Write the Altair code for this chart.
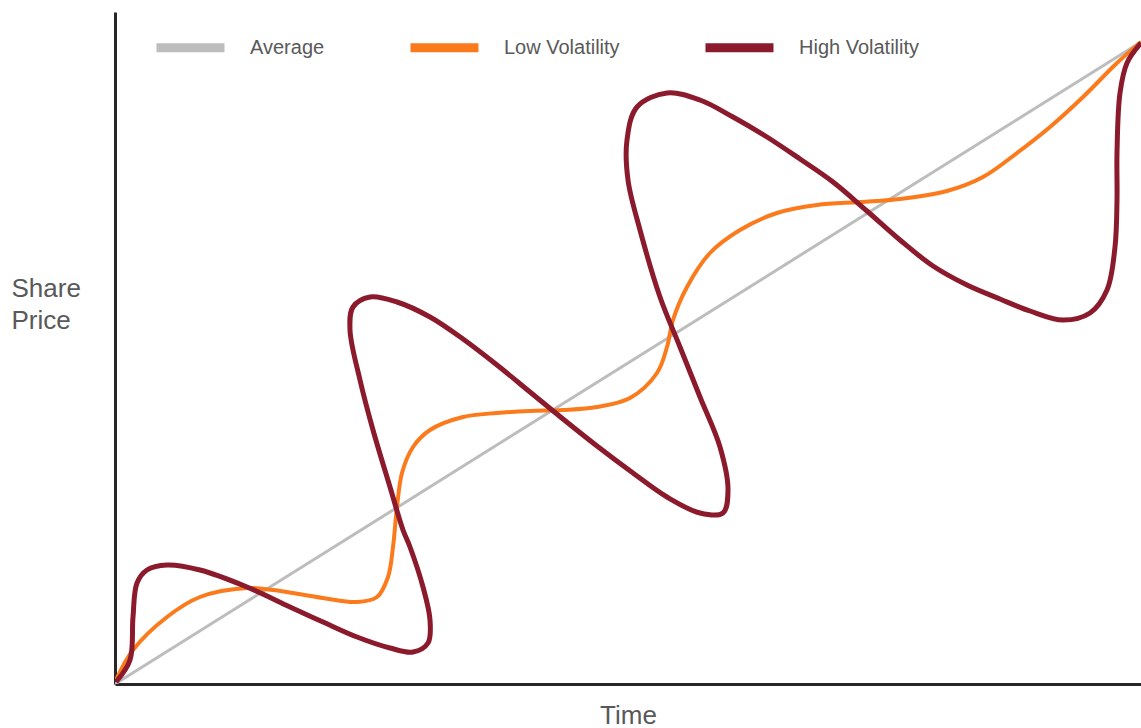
import altair as alt
import pandas as pd

# Pixel-read values (x: time units from left axis, y: price units from bottom axis)
avg_x = [0, 1026]
avg_y = [0, 642]

low_px = [116, 133, 167, 200, 247, 273, 323, 357, 377, 388, 393, 397, 402, 413, 430, 463,
          497, 530, 563, 597, 630, 657, 667, 673, 687, 710, 740, 777, 817, 860, 900, 947,
          983, 1017, 1050, 1083, 1117, 1141]
low_py = [680, 650, 617, 597, 588, 590, 598, 602, 597, 577, 547, 507, 473, 447, 430, 417,
          413, 411, 410, 407, 398, 373, 347, 320, 287, 253, 230, 213, 205, 202, 199, 191,
          177, 153, 127, 97, 63, 42]

high_px = [116, 130, 133, 137, 147, 167, 200, 247, 290, 323, 357, 390, 413, 428,
           430, 423, 410, 403, 390, 373, 360, 350, 353, 370, 397, 430, 463, 497, 530, 563,
           597, 633, 667, 700, 723, 728, 720, 700, 680, 660, 640, 628, 627, 637, 667, 700,
           733, 767, 800, 833, 867, 900, 933, 967, 1000, 1030, 1063, 1090, 1107, 1115, 1117,
           1117, 1120, 1127, 1141]
high_py = [682, 660, 617, 583, 570, 565, 570, 587, 607, 622, 637, 648, 652, 643,
           620, 587, 547, 530, 487, 430, 380, 330, 307, 297, 302, 317, 339, 365, 392, 419,
           446, 473, 497, 513, 513, 490, 447, 397, 347, 297, 230, 180, 140, 107, 93, 100,
           117, 137, 159, 182, 211, 240, 266, 285, 299, 311, 320, 313, 290, 247, 200,
           153, 93, 63, 43]

series_names = ["Average", "Low Volatility", "High Volatility"]
series_colors = ["#bdbdbd", "#fb7a1c", "#8b1a2c"]

rows = []
for i, (x, y) in enumerate(zip(avg_x, avg_y)):
    rows.append({"series": "Average", "order": i, "x": x, "y": y})
for i, (x, y) in enumerate(zip(low_px, low_py)):
    rows.append({"series": "Low Volatility", "order": i, "x": x - 115, "y": 684 - y})
for i, (x, y) in enumerate(zip(high_px, high_py)):
    rows.append({"series": "High Volatility", "order": i, "x": x - 115, "y": 684 - y})
df = pd.DataFrame(rows)

FONT = "Liberation Sans"
TXT = "#595959"

color = alt.Color(
    "series:N",
    scale=alt.Scale(domain=series_names, range=series_colors),
    legend=alt.Legend(
        title=None,
        orient="none",
        legendX=37,
        legendY=-3,
        direction="horizontal",
        symbolType="stroke",
        symbolSize=4624,
        symbolStrokeWidth=9,
        labelFont=FONT,
        labelFontSize=20,
        labelColor=TXT,
        labelOffset=21,
        columnPadding=67,
    ),
)

xenc = alt.X(
    "x:Q",
    scale=alt.Scale(domain=[0, 1026], nice=False, zero=False),
    axis=alt.Axis(
        title="Time", ticks=False, labels=False, grid=False,
        domainColor="#2a2526", domainWidth=3,
        titleFont=FONT, titleFontSize=26, titleFontWeight="normal", titleColor=TXT,
        titlePadding=18,
    ),
)
yenc = alt.Y(
    "y:Q",
    scale=alt.Scale(domain=[0, 672], nice=False, zero=False),
    axis=alt.Axis(
        title=["Share", "Price"], ticks=False, labels=False, grid=False,
        domainColor="#2a2526", domainWidth=3,
        titleFont=FONT, titleFontSize=26, titleFontWeight="normal", titleColor=TXT,
        titleAngle=0, titleAlign="left", titleBaseline="alphabetic",
        titleX=-104, titleY=284, titleLineHeight=32,
    ),
)

def layer(name, width):
    return alt.Chart(df).transform_filter(alt.datum.series == name).mark_line(
        interpolate="catmull-rom", strokeWidth=width, clip=True
    ).encode(x=xenc, y=yenc, color=color, order="order:Q")

chart = alt.layer(
    layer("Average", 3),
    layer("Low Volatility", 4),
    layer("High Volatility", 5),
).properties(
    width=1026, height=672,
    autosize=alt.AutoSizeParams(type="none"),
    padding={"left": 115, "top": 12, "right": 0, "bottom": 44},
).configure(background="white", view=alt.ViewConfig(stroke=None))

chart.save("out.html", embed_options={"renderer": "svg", "actions": False})
